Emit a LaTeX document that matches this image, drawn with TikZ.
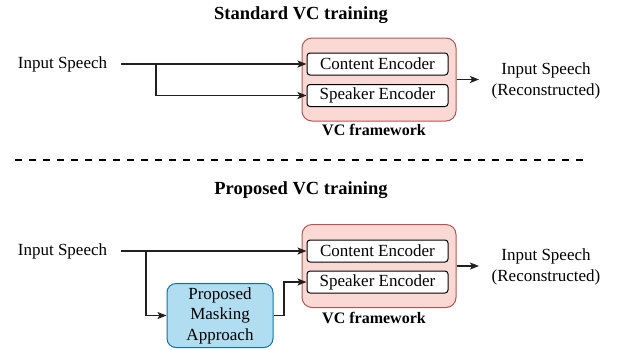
\documentclass[tikz,border=0pt]{standalone}
\usepackage{fontspec}
\setmainfont{Liberation Serif}
\usetikzlibrary{arrows.meta,calc}
\definecolor{vcfill}{HTML}{FAD9D5}
\definecolor{vcdraw}{HTML}{B85450}
\definecolor{mkfill}{HTML}{B1DDF0}
\definecolor{mkdraw}{HTML}{10739E}
\definecolor{lncol}{HTML}{202020}
\tikzset{
  txt/.style={font=\fontsize{17}{20.5}\selectfont, inner sep=0pt, align=center},
  ttl/.style={font=\fontsize{18.5}{22}\selectfont\bfseries, inner sep=0pt},
  lbl/.style={font=\fontsize{16}{19}\selectfont\bfseries, inner sep=0pt},
  vcbox/.style={draw=vcdraw, fill=vcfill, line width=1pt, rounded corners=10pt, minimum width=154pt, minimum height=83pt, inner sep=0pt},
  encbox/.style={draw=black, fill=white, line width=1pt, rounded corners=3pt, minimum width=141pt, minimum height=22pt, inner sep=0pt, font=\fontsize{17}{20.5}\selectfont},
  maskbox/.style={draw=mkdraw, fill=mkfill, line width=1pt, rounded corners=9pt, minimum width=106pt, minimum height=64pt, inner sep=0pt, align=center, font=\fontsize{17}{20.5}\selectfont},
  arr/.style={draw=lncol, line width=1.1pt, -{Stealth[length=9pt,width=7pt,inset=2pt]}},
}
\begin{document}
\begin{tikzpicture}[x=1pt,y=-1pt]
\useasboundingbox (0,0) rectangle (617,349);
% ---------- top ----------
\node[ttl] (title1) at (301,15) {Standard VC training};
\node[txt] (in1) at (62.5,64) {Input Speech};
\coordinate (s1) at (121,64);
\coordinate (b1) at (156,64);
\node[vcbox] (vc1) at (379,79.5) {};
\node[encbox] (ce1) at (377.5,64) {Content Encoder};
\node[encbox] (se1) at (377.5,95.5) {Speaker Encoder};
\node[lbl] (fw1) at (374,130) {VC framework};
\node[txt] (out1) at (546,81) {Input Speech\\(Reconstructed)};
\coordinate (o1) at (479,79.5);
\draw[arr] (s1) -- (ce1.west);
\draw[arr] (b1) |- (se1.west);
\draw[arr] (vc1.east) -- (o1);
% ---------- divider ----------
\coordinate (d1) at (15,160);
\coordinate (d2) at (583,160);
\draw[line width=2.4pt, dash pattern=on 7pt off 7.025pt] (d1) -- (d2);
% ---------- bottom ----------
\node[ttl] (title2) at (301,190) {Proposed VC training};
\node[txt] (in2) at (62.5,251) {Input Speech};
\coordinate (s2) at (121,251);
\coordinate (b2) at (146,251);
\node[vcbox] (vc2) at (379,266) {};
\node[encbox] (ce2) at (377.5,251) {Content Encoder};
\node[encbox] (se2) at (377.5,282) {Speaker Encoder};
\node[lbl] (fw2) at (374,318) {VC framework};
\node[maskbox] (mask) at (220,315.5) {Proposed\\Masking\\Approach};
\node[txt] (out2) at (546,267) {Input Speech\\(Reconstructed)};
\coordinate (o2) at (479,266);
\coordinate (m2) at (284,300);
\draw[arr] (s2) -- (ce2.west);
\draw[arr] (b2) |- (mask.west);
\draw[arr] (mask.east) -- (mask.east -| m2) |- (se2.west);
\draw[arr] (vc2.east) -- (o2);
\end{tikzpicture}
\end{document}
